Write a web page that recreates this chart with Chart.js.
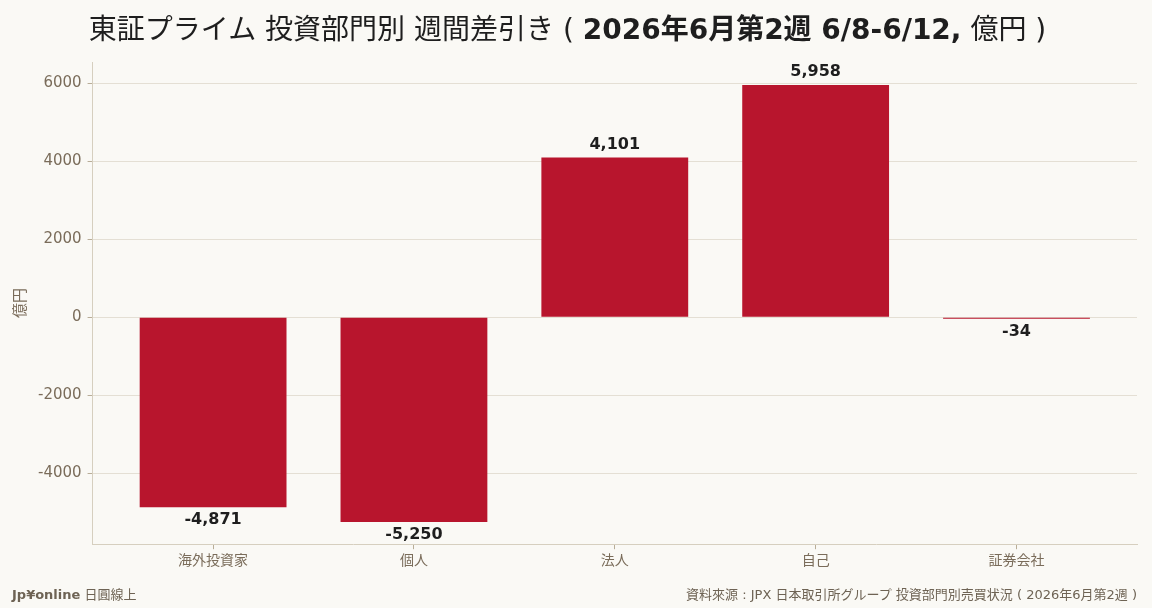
<!DOCTYPE html>
<html>
<head>
<meta charset="utf-8">
<script src="https://cdn.jsdelivr.net/npm/chart.js@4"></script>
<style>
  html, body { margin: 0; padding: 0; background: #FAF9F5; }
  #wrap { position: relative; width: 1152px; height: 608px; overflow: hidden;
          font-family: "DejaVu Sans", "Noto Sans CJK JP", sans-serif; }
  #titulo { position: absolute; left: 0; width: 1135px; top: 7px; text-align: center;
            font-size: 28px; color: #1E1E1E; white-space: nowrap; }
  #titulo b { font-weight: bold; }
  #pie_izq { position: absolute; left: 12px; top: 584px; font-size: 13px; color: #6E6354; }
  #pie_der { position: absolute; right: 15px; top: 584px; font-size: 13px; color: #6E6354; }
  #grafico { position: absolute; left: 0; top: 0; }
</style>
</head>
<body>
<div id="wrap">
  <canvas id="grafico" width="1152" height="608"></canvas>
  <div id="titulo">東証プライム 投資部門別 週間差引き ( <b>2026年6月第2週 6/8-6/12,</b> 億円 )</div>
  <div id="pie_izq"><b>Jp¥online</b> 日圓線上</div>
  <div id="pie_der">資料來源 : JPX 日本取引所グループ 投資部門別売買状況 ( 2026年6月第2週 )</div>
</div>
<script>
const categorias = ['海外投資家', '個人', '法人', '自己', '証券会社'];
const valores = [-4871, -5250, 4101, 5958, -34];
const ticks_y = [-4000, -2000, 0, 2000, 4000, 6000];

const color_barra = '#B8152D';
const color_texto = '#7A6C5A';

// etiquetas de valor encima / debajo de cada barra
const etiquetas = {
  id: 'etiquetas',
  afterDatasetsDraw(chart) {
    const ctx = chart.ctx;
    const meta = chart.getDatasetMeta(0);
    ctx.save();
    ctx.font = 'bold 16px "DejaVu Sans", sans-serif';
    ctx.fillStyle = '#1E1E1E';
    ctx.textAlign = 'center';
    meta.data.forEach((bar, i) => {
      const v = valores[i];
      const txt = v.toLocaleString('en-US');
      if (v >= 0) {
        ctx.textBaseline = 'bottom';
        ctx.fillText(txt, bar.x, bar.y - 5);
      } else {
        ctx.textBaseline = 'top';
        ctx.fillText(txt, bar.x, bar.y + 5);
      }
    });
    ctx.restore();
  }
};

// eje x lineal con margen a los lados (como en el original)
const puntos = valores.map((v, i) => ({ x: i, y: v }));

new Chart(document.getElementById('grafico'), {
  type: 'bar',
  data: {
    datasets: [{
      data: puntos,
      backgroundColor: color_barra,
      borderWidth: 0,
      barPercentage: 0.731,
      categoryPercentage: 1.0
    }]
  },
  options: {
    responsive: false,
    animation: false,
    devicePixelRatio: 1,
    layout: { padding: { top: 62, right: 15, bottom: 34, left: 6 } },
    plugins: {
      legend: { display: false },
      tooltip: { enabled: false },
      title: { display: false }
    },
    scales: {
      x: {
        type: 'linear',
        min: -0.6,
        max: 4.6,
        offset: false,
        afterBuildTicks: (axis) => { axis.ticks = categorias.map((c, i) => ({ value: i })); },
        grid: { display: true, drawOnChartArea: false, drawTicks: true, offset: false,
                color: '#B8AD98', tickColor: '#B8AD98', tickLength: 5 },
        border: { display: true, color: '#D6CFBF' },
        ticks: { color: color_texto, font: { size: 14, family: '"DejaVu Sans", "Noto Sans CJK JP"' },
                 padding: 4, maxRotation: 0, autoSkip: false,
                 callback: (v) => categorias[v] }
      },
      y: {
        min: -5820,
        max: 6550,
        z: 1,
        afterBuildTicks: (axis) => { axis.ticks = ticks_y.map(v => ({ value: v })); },
        grid: { color: 'rgba(220,214,200,0.75)', tickLength: 5, tickColor: '#B8AD98' },
        border: { color: '#D6CFBF' },
        ticks: { color: color_texto, font: { size: 15, family: '"DejaVu Sans"' }, padding: 6,
                 callback: (v) => String(v) },
        title: { display: true, text: '億円', color: color_texto,
                 font: { size: 15, family: '"Noto Sans CJK JP"' }, padding: { bottom: 4 } }
      }
    }
  },
  plugins: [etiquetas]
});
</script>
</body>
</html>
